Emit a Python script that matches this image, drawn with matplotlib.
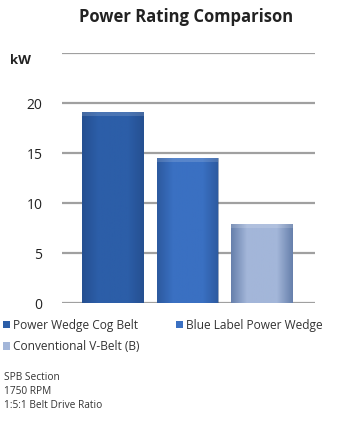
import matplotlib.pyplot as plt
import numpy as np
from matplotlib.colors import LinearSegmentedColormap
import matplotlib.patches as mpatches

belts = ["Power Wedge Cog Belt", "Blue Label Power Wedge", "Conventional V-Belt (B)"]
kw = [19.1, 14.5, 7.9]
farger = ["#2c5ea8", "#3a70c2", "#a3b6d9"]
notes = ["SPB Section", "1750 RPM", "1:5:1 Belt Drive Ratio"]

plt.rcParams['font.family'] = ['Open Sans', 'DejaVu Sans']

fig = plt.figure(figsize=(3.48, 4.21), dpi=100)
ax = fig.add_axes([0.178, 0.280, 0.727, 0.594])
ax.set_xlim(-0.685, 2.71)
ax.set_ylim(0, 25)

for v in range(0, 26, 5):
    ax.axhline(v, color="#a0a0a0", lw=1.6, zorder=0)

bars = ax.bar(range(3), kw, width=0.83, color=farger, zorder=2,
              edgecolor="none")

# soft shading on each bar
for b, c in zip(bars, farger):
    x0, w, h = b.get_x(), b.get_width(), b.get_height()
    cmap = LinearSegmentedColormap.from_list("g", ["#1e3f75", c, c, c, "#1e3f75"])
    grad = np.linspace(0, 1, 64).reshape(1, -1)
    im = ax.imshow(grad, extent=(x0, x0 + w, 0, h), aspect="auto",
                   cmap=cmap, zorder=3, alpha=0.45)
    im.set_clip_path(b)
    ax.add_patch(mpatches.Rectangle((x0, h - 0.35), w, 0.35,
                                    color="white", alpha=0.15, zorder=4, lw=0))

for s in ax.spines.values():
    s.set_visible(False)
ax.set_xticks([])
ax.set_yticks(range(0, 21, 5))
ax.tick_params(axis="y", length=0, pad=14, labelsize=10, labelcolor="#222222")
fig.text(0.03, 1 - 60 / 421, "kW", fontsize=9.5, fontweight="bold",
         va="center", color="#222222")

fig.text(0.535, 1 - 17 / 421, "Power Rating Comparison", fontsize=12,
         fontweight="bold", ha="center", va="center", color="#222222")

handles = [mpatches.Patch(facecolor=c, edgecolor="none", label=l)
           for c, l in zip(farger, belts)]
handles = [handles[0], handles[2], handles[1]]
leg = fig.legend(handles=handles, loc="upper left", ncol=2,
                 bbox_to_anchor=(-0.005, 1 - 314 / 421), frameon=False,
                 fontsize=8.6, handlelength=0.6, handleheight=0.6,
                 handletextpad=0.25, columnspacing=3.0, labelspacing=0.7,
                 borderaxespad=0)
for t in leg.get_texts():
    t.set_color("#333333")

for i, n in enumerate(notes):
    fig.text(0.012, 1 - (377 + i * 14) / 421, n, fontsize=7.3,
             va="center", color="#333333")

fig.savefig("out.png", dpi=100)
